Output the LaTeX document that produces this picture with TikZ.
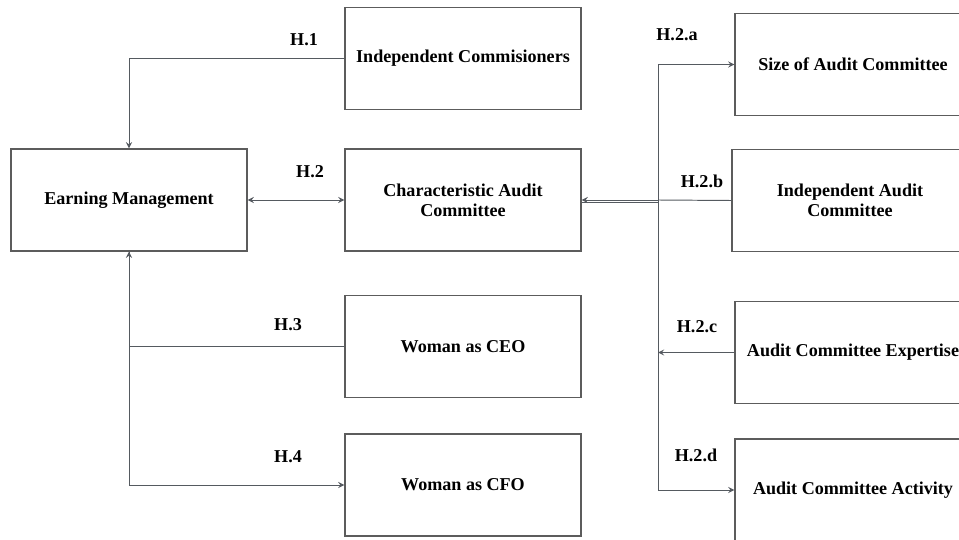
\documentclass[tikz,border=0pt]{standalone}
\usepackage{tikz}
\usepackage{fontspec}
\setmainfont{Liberation Serif}
\usetikzlibrary{arrows}

\definecolor{boxgray}{HTML}{5C5C5C}
\definecolor{linegray}{HTML}{555A60}

\tikzset{
    box/.style = {draw = boxgray, line width = 0.85pt, minimum width = 4.72cm, minimum height = 2.04cm,
        align = center, font = \fontsize{10.3}{11.4}\selectfont\bfseries},
    link/.style = {draw = linegray, line width = 0.55pt},
    hyp/.style = {font = \fontsize{10.3}{11.4}\selectfont\bfseries}
}

\begin{document}
\begin{tikzpicture}[x = 0.02cm, y = -0.02cm, >=stealth]
        \useasboundingbox (0,0) rectangle (959,540);
        \node[box] (earn) at (129,200) {Earning Management};
        \node[box] (indcom) at (463,58.5) {Independent Commisioners};
        \node[box] (charac) at (463,200) {Characteristic Audit\\Committee};
        \node[box] (ceo) at (463,346.5) {Woman as CEO};
        \node[box] (cfo) at (463,485) {Woman as CFO};
        \node[box] (size) at (853,64.5) {Size of Audit Committee};
        \node[box] (indaud) at (850,200.5) {Independent Audit\\Committee};
        \node[box] (expert) at (853,352.5) {Audit Committee Expertise};
        \node[box] (activ) at (853,490) {Audit Committee Activity};
        \coordinate (hub) at (658,200);
        \draw[link, ->] (indcom.west) -| (earn.north);
        \draw[link, <->] (earn.east) -- (charac.west);
        \draw[link, ->] (ceo.west) -| (earn.south);
        \draw[link, ->] (earn.south) |- (cfo.west);
        \draw[link, ->] (hub) -- (charac.east);
        \draw[link] ([yshift = -1.6pt]hub) -- ([yshift = -1.6pt]charac.east);
        \draw[link] (indaud.west) -- (hub);
        \draw[link, ->] (hub) |- (size.west);
        \draw[link, ->] (hub) |- (activ.west);
        \draw[link, ->] (expert.west) -- (expert.west -| hub);
        \node[hyp] (h1) at (304,40) {H.1};
        \node[hyp] (h2) at (310,172) {H.2};
        \node[hyp] (h3) at (288,325) {H.3};
        \node[hyp] (h4) at (288,457) {H.4};
        \node[hyp] (h2a) at (677,35) {H.2.a};
        \node[hyp] (h2b) at (702,181) {H.2.b};
        \node[hyp] (h2c) at (697,327) {H.2.c};
        \node[hyp] (h2d) at (696,455) {H.2.d};
    \end{tikzpicture}
\end{document}
